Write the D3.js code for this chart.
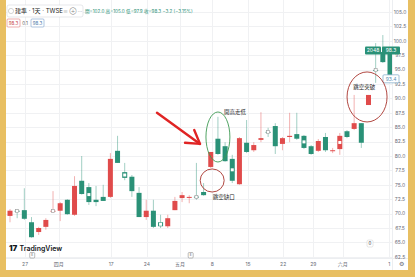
<!DOCTYPE html>
<html>
<head>
<meta charset="utf-8">
<script src="https://cdn.jsdelivr.net/npm/d3@7"></script>
<style>
  body { margin: 0; background: #e8bf62; }
  svg { display: block; font-family: Inter, "Noto Sans CJK TC", sans-serif; }
</style>
</head>
<body>
<script>
const width = 415;
const height = 277;

// daily candles (price)
const openP  = [69.6,70.5,70.6,68.5,66.8,67.7,70.4,70.5,72.4,69.8,75.7,74.6,72.4,72.9,72.9,80.9,77.2,76.4,73.6,69.4,70.5,68.5,67.8,70.6,72.7,72.9,72.95,73.75,78.1,83.0,81.7,79.5,75.1,82.3,81.0,82.8,84.2,85.2,82.1,83.3,83.8,83.5,81.7,80.9,83.3,80.9,81.2,84.3,84.7,85.7,88.85,94.95,98.05,98.75];
const highP  = [70.8,70.8,74.4,69.4,67.7,69.2,73.9,72.0,72.5,76.5,80.0,75.3,74.8,75.0,80.5,83.5,78.8,76.7,74.6,72.4,72.4,69.8,69.8,72.9,73.75,73.2,78.8,75.3,80.7,86.8,82.4,80.2,83.3,86.25,82.4,87.6,84.9,85.7,83.3,87.5,87.5,83.65,81.9,82.95,84.0,81.4,84.0,84.5,90.6,85.7,90.6,99.6,101.0,98.75];
const lowP   = [68.5,69.2,68.9,65.8,66.3,67.2,70.1,68.7,69.8,69.6,73.3,71.5,71.3,72.2,72.7,78.8,75.8,72.9,69.4,68.9,67.5,67.5,67.5,70.6,72.0,71.8,72.4,73.1,77.9,80.2,79.0,75.3,75.0,80.5,80.7,82.4,83.3,80.35,81.0,82.4,82.8,81.2,80.2,80.7,80.7,80.5,80.2,83.1,84.5,81.4,88.85,92.7,96.15,93.4];
const closeP = [70.5,70.4,69.1,65.9,67.5,68.9,70.5,71.8,69.9,74.8,73.4,72.0,72.0,72.2,79.5,78.8,76.2,73.9,69.4,70.5,67.7,67.8,69.2,72.2,73.2,72.9,72.85,73.2,80.7,80.35,79.1,75.7,83.1,80.7,81.9,83.1,84.1,81.7,83.1,83.5,83.0,81.4,80.35,82.6,81.0,81.0,83.5,83.3,85.7,82.3,90.6,94.9,96.3,93.5];
// candles carrying the small white marker
const marked = [1,6,11,16,21,26,31,36,41,46,51];

const xTickIdx = [2.1, 6.8, 14.1, 19.1, 23.7, 28.2, 33.2, 38.1, 42.3, 46.4, 52.9];
const xTickLabels = ["27","四月","17","24","五月","8","15","22","29","六月","1"];
const yTicks = d3.range(62.5, 105.01, 2.5);

const lastPrice = 98.3;
const lowLine = 93.4;

const up = "#e04b4b";
const down = "#2a9177";

const data = openP.map((o, i) => ({
  i, o, h: highP[i], l: lowP[i], c: closeP[i], mark: marked.includes(i)
}));

const svg = d3.select("body").append("svg")
  .attr("width", width)
  .attr("height", height);

svg.append("rect").attr("width", width).attr("height", height).attr("fill", "#e8bf62");
svg.append("rect").attr("x", 6).attr("y", 0).attr("width", 402).attr("height", 270).attr("fill", "#fff");

const plot = { left: 6, right: 392, top: 0, bottom: 258 };

const x = d3.scaleLinear().domain([0, 53]).range([10, 390]);
const y = d3.scaleLinear().domain([80, 105]).range([156, 12]);
const bw = 5;

svg.append("clipPath").attr("id", "clip")
  .append("rect")
  .attr("x", plot.left).attr("y", plot.top)
  .attr("width", plot.right - plot.left).attr("height", plot.bottom - plot.top);

// grid
const grid = svg.append("g").attr("clip-path", "url(#clip)");
grid.selectAll(".hg").data(yTicks).enter().append("line")
  .attr("x1", plot.left).attr("x2", plot.right)
  .attr("y1", d => Math.round(y(d)) + 0.5).attr("y2", d => Math.round(y(d)) + 0.5)
  .attr("stroke", "#f0f1f3");
grid.selectAll(".vg").data(xTickIdx).enter().append("line")
  .attr("y1", plot.top).attr("y2", plot.bottom)
  .attr("x1", d => Math.round(x(d)) + 0.5).attr("x2", d => Math.round(x(d)) + 0.5)
  .attr("stroke", "#f0f1f3");

// axis panels
svg.append("line").attr("x1", plot.right + 0.5).attr("x2", plot.right + 0.5)
  .attr("y1", 0).attr("y2", 270).attr("stroke", "#eceef1");
svg.append("line").attr("x1", 6).attr("x2", 408)
  .attr("y1", plot.bottom + 0.5).attr("y2", plot.bottom + 0.5).attr("stroke", "#eceef1");

// candles
const candles = svg.append("g").attr("clip-path", "url(#clip)")
  .selectAll("g").data(data).enter().append("g");

candles.append("line")
  .attr("x1", d => x(d.i)).attr("x2", d => x(d.i))
  .attr("y1", d => y(d.h)).attr("y2", d => y(d.l))
  .attr("stroke", d => d.c >= d.o ? up : down)
  .attr("stroke-opacity", 0.55)
  .attr("stroke-width", 0.8);

candles.append("rect")
  .attr("x", d => x(d.i) - bw / 2)
  .attr("width", bw)
  .attr("y", d => y(Math.max(d.o, d.c)))
  .attr("height", d => Math.max(1, Math.abs(y(d.o) - y(d.c))))
  .attr("fill", d => d.c >= d.o ? up : down);

// white markers on some candles
candles.filter(d => d.mark).append("rect")
  .attr("x", d => x(d.i) - 1.5)
  .attr("y", d => y((d.o + d.c) / 2) - 1.5)
  .attr("width", 3).attr("height", 3)
  .attr("fill", "#fff")
  .attr("stroke", d => Math.abs(y(d.o) - y(d.c)) < 4 ? "#999" : "none")
  .attr("stroke-width", 0.6);

// y axis labels
svg.append("g").selectAll("text").data(yTicks).enter().append("text")
  .attr("x", 400).attr("y", d => y(d))
  .attr("dy", "0.35em")
  .attr("text-anchor", "middle")
  .attr("font-size", 5)
  .attr("fill", "#6a6d78")
  .text(d => d.toFixed(1));

// x axis labels
svg.append("g").selectAll("text").data(xTickIdx).enter().append("text")
  .attr("x", d => x(d)).attr("y", 264)
  .attr("dy", "0.35em")
  .attr("text-anchor", "middle")
  .attr("font-size", 5)
  .attr("fill", "#6a6d78")
  .text((d, i) => xTickLabels[i]);
svg.append("text").attr("x", 401).attr("y", 264).attr("dy", "0.35em")
  .attr("text-anchor", "middle").attr("font-size", 6).attr("fill", "#6a6d78").text("⚙");

// price tags
const tag = (x0, w, v, label, fill, stroke, color) => {
  const g = svg.append("g");
  g.append("rect").attr("x", x0).attr("y", y(v) - 4).attr("width", w).attr("height", 8)
    .attr("rx", 1).attr("fill", fill).attr("stroke", stroke).attr("stroke-width", 0.7);
  g.append("text").attr("x", x0 + w / 2).attr("y", y(v)).attr("dy", "0.35em")
    .attr("text-anchor", "middle").attr("font-size", 5).attr("fill", color).text(label);
};
tag(365, 16, lastPrice, "2048", down, "none", "#fff");
tag(382, 18, lastPrice, lastPrice.toFixed(1), down, "none", "#fff");
tag(383, 16, lowLine, lowLine.toFixed(1), "#fff", "#7aa7c7", "#5a8fb5");

// annotations, placed in data space
const ell = [
  { i: 29.0, p: 83.3, ri: 1.67, rp: 4.34, color: "#3d9a52" },
  { i: 28.2, p: 75.75, ri: 1.67, rp: 2.0, color: "#a8332d" },
  { i: 49.8, p: 90.25, ri: 2.79, rp: 4.34, color: "#a8332d" }
];
const notes = [
  { i: 31.4, p: 87.6, text: "開高走低" },
  { i: 29.8, p: 72.9, text: "跳空缺口" },
  { i: 49.4, p: 92.0, text: "跳空突破" }
];
svg.append("g").selectAll("ellipse").data(ell).enter().append("ellipse")
  .attr("cx", d => x(d.i)).attr("cy", d => y(d.p))
  .attr("rx", d => x(d.i + d.ri) - x(d.i))
  .attr("ry", d => y(d.p - d.rp) - y(d.p))
  .attr("fill", "none").attr("stroke", d => d.color).attr("stroke-width", 0.9);
svg.append("g").selectAll("text").data(notes).enter().append("text")
  .attr("x", d => x(d.i)).attr("y", d => y(d.p))
  .attr("dy", "0.35em").attr("text-anchor", "middle")
  .attr("font-size", 5.5).attr("fill", "#222")
  .text(d => d.text);

// red arrow
const a0 = [x(20.5), y(87.5)];
const a1 = [x(26.5), y(82.1)];
const ang = Math.atan2(a1[1] - a0[1], a1[0] - a0[0]);
const head = 15;
const arm = s => [a1[0] - head * Math.cos(ang + s), a1[1] - head * Math.sin(ang + s)];
const arrow = svg.append("g").attr("fill", "none").attr("stroke", "#e02424")
  .attr("stroke-width", 2.4).attr("stroke-linecap", "round").attr("stroke-linejoin", "round");
arrow.append("path").attr("d", d3.line()([a0, a1]));
arrow.append("path").attr("d", d3.line()([arm(0.55), a1, arm(-0.55)]));

// header legend
const hd = svg.append("g");
hd.append("rect").attr("x", 7).attr("y", 5).attr("width", 76).attr("height", 12).attr("rx", 2)
  .attr("fill", "#fff").attr("stroke", "#d6d8de").attr("stroke-width", 0.6);
hd.append("circle").attr("cx", 11).attr("cy", 11).attr("r", 2.6)
  .attr("fill", "#fff").attr("stroke", "#aaa").attr("stroke-width", 0.5);
hd.append("text").attr("x", 15).attr("y", 11).attr("dy", "0.35em")
  .attr("font-size", 6).attr("fill", "#222").text("建準 · 1天 · TWSE");
hd.append("text").attr("x", 63).attr("y", 11).attr("dy", "0.35em")
  .attr("font-size", 5).attr("fill", "#888").text("≡  ⊕  ···");
hd.append("text").attr("x", 85).attr("y", 11).attr("dy", "0.35em")
  .attr("font-size", 4.6).attr("fill", down).text("開=102.0 高=105.0 低=97.9 收=98.3 −3.2 (−3.15%)");

const chip = (x0, w, label, stroke, color) => {
  if (stroke) hd.append("rect").attr("x", x0).attr("y", 19).attr("width", w).attr("height", 8)
    .attr("rx", 1).attr("fill", "#fff").attr("stroke", stroke).attr("stroke-width", 0.6);
  hd.append("text").attr("x", x0 + w / 2).attr("y", 23).attr("dy", "0.35em")
    .attr("text-anchor", "middle").attr("font-size", 4.5).attr("fill", color).text(label);
};
chip(7, 13, "98.3", "#e07a7a", "#c94545");
chip(21, 8, "0.1", null, "#555");
chip(31, 13, "98.3", "#7aa0c9", "#4b78a8");

// event markers on the time line
const ev = [{ i: 3.1, t: "E" }, { i: 25.2, t: "E" }];
svg.append("g").selectAll("g").data(ev).enter().append("g").each(function (d) {
  const g = d3.select(this);
  g.append("rect").attr("x", x(d.i) - 2.5).attr("y", 252.5).attr("width", 5).attr("height", 5.5)
    .attr("rx", 1).attr("fill", "#fff").attr("stroke", "#777").attr("stroke-width", 0.5);
  g.append("text").attr("x", x(d.i)).attr("y", 255.3).attr("dy", "0.35em")
    .attr("text-anchor", "middle").attr("font-size", 3.3).attr("fill", "#555").text(d.t);
});
svg.append("rect").attr("x", 367).attr("y", 240).attr("width", 6).attr("height", 7).attr("rx", 1.5)
  .attr("fill", "#fff").attr("stroke", "#ccc").attr("stroke-width", 0.5);
svg.append("text").attr("x", 370).attr("y", 243.5).attr("dy", "0.35em")
  .attr("text-anchor", "middle").attr("font-size", 4.5).attr("fill", "#333").text("0");

// watermark
svg.append("text").attr("x", 9).attr("y", 248.5).attr("dy", "0.35em")
  .attr("font-size", 8).attr("font-weight", 900).attr("fill", "#131722").text("17");
svg.append("text").attr("x", 19.5).attr("y", 248.5).attr("dy", "0.35em")
  .attr("font-size", 7).attr("font-weight", 600).attr("fill", "#131722").text("TradingView");
</script>
</body>
</html>
